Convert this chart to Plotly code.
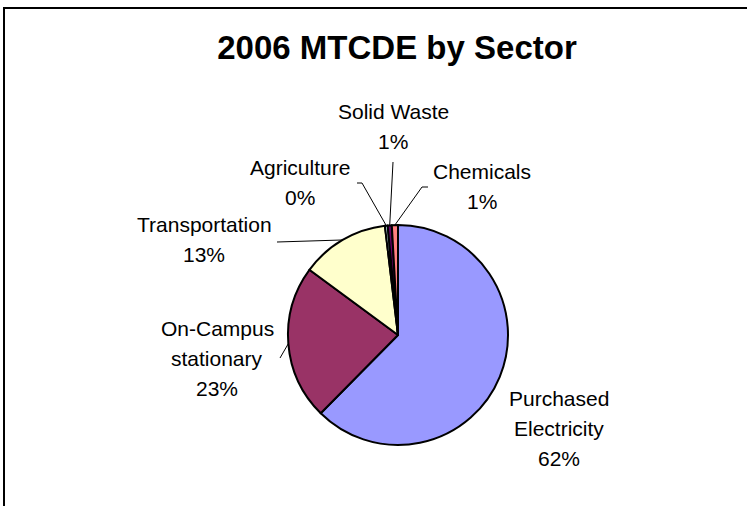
import numpy as np
import plotly.graph_objects as go

# Data
categories = ["Purchased Electricity", "On-Campus stationary", "Transportation",
              "Agriculture", "Solid Waste", "Chemicals"]
label_lines = [["Purchased", "Electricity"], ["On-Campus", "stationary"], ["Transportation"],
               ["Agriculture"], ["Solid Waste"], ["Chemicals"]]
values = [62.4, 22.7, 13.0, 0.4, 0.6, 0.9]
colors = ["#9999FF", "#993366", "#FFFFCC", "#CCFFFF", "#660066", "#FF8080"]

# Layout (pixels, figure is 747 x 506)
W, H = 747, 506
cx, cy, R = 398, 335, 110
line_gap = 30
font = "Liberation Sans, Arial, sans-serif"
# label block centre (x, first-line y) and leader line points from label side
label_pos = {
    "Purchased Electricity": (559, 398, None),
    "On-Campus stationary": (217, 328, [(280, 358)]),
    "Transportation": (204, 224, [(277, 242)]),
    "Agriculture": (300, 167, [(357, 183), (362, 183)]),
    "Solid Waste": (393, 111, [(393, 162)]),
    "Chemicals": (482, 171, [(428, 187), (422, 187)]),
}

fig = go.Figure()

fig.add_trace(go.Pie(
    labels=categories, values=values, sort=False, direction="clockwise", rotation=0,
    marker=dict(colors=colors, line=dict(color="black", width=2)),
    textinfo="none", hoverinfo="label+percent", showlegend=False,
    domain=dict(x=[(cx - R) / W, (cx + R) / W], y=[(H - cy - R) / H, (H - cy + R) / H]),
))

total = sum(values)
cum = np.cumsum([0] + values)
annotations = []
for i, cat in enumerate(categories):
    pct = f"{round(values[i] / total * 100)}%"
    lx, ly, leader = label_pos[cat]
    lines = label_lines[i] + [pct]
    for j, t in enumerate(lines):
        annotations.append(dict(x=lx, y=ly + j * line_gap, xref="x", yref="y", text=t,
                                showarrow=False, xanchor="center", yanchor="middle",
                                font=dict(family=font, size=21, color="black")))
    if leader:
        mid = (cum[i] + cum[i + 1]) / 2 / total * 2 * np.pi
        ex, ey = cx + R * np.sin(mid), cy - R * np.cos(mid)
        pts = leader + [(ex, ey)]
        fig.add_trace(go.Scatter(x=[p[0] for p in pts], y=[p[1] for p in pts], mode="lines",
                                 line=dict(color="black", width=1), hoverinfo="skip",
                                 showlegend=False))

fig.update_layout(
    width=W, height=H, margin=dict(l=0, r=0, t=0, b=0),
    paper_bgcolor="white", plot_bgcolor="rgba(0,0,0,0)",
    xaxis=dict(range=[0, W], visible=False, fixedrange=True),
    yaxis=dict(range=[H, 0], visible=False, fixedrange=True),
    title=dict(text="<b>2006 MTCDE by Sector</b>", x=397 / W, y=1 - 47.5 / H,
               xanchor="center", yanchor="middle",
               font=dict(family=font, size=33, color="black")),
    annotations=annotations,
    shapes=[dict(type="rect", xref="x", yref="y", x0=4, y0=8, x1=W + 20, y1=H + 20,
                 line=dict(color="black", width=2))],
)

fig.write_html("out.html", config={"displayModeBar": False},
               post_script="document.body.style.margin='0';")
